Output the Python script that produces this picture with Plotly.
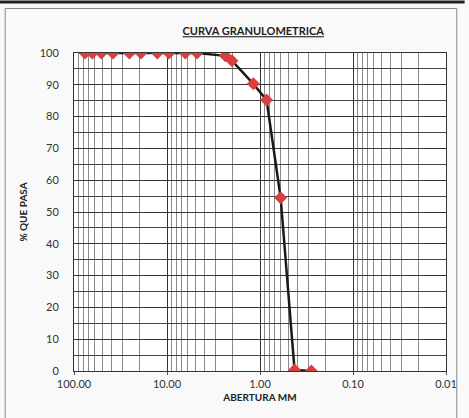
import plotly.graph_objects as go

# Sieve openings (mm) and percent passing
abertura_mm = [76.2, 63.5, 50.8, 38.1, 25.4, 19.05, 12.7, 9.525, 6.35, 4.76,
               2.36, 2.00, 1.18, 0.85, 0.60, 0.425, 0.28]
pct_pasa = [100, 100, 100, 100, 100, 100, 100, 100, 100, 100,
            99.1, 97.6, 90.3, 85.2, 54.5, 0.3, 0.0]

x_tickvals = [100, 10, 1, 0.1, 0.01]
x_ticktext = ["100.00", "10.00", "1.00", "0.10", "0.01"]
y_tickvals = [0, 10, 20, 30, 40, 50, 60, 70, 80, 90, 100]

minor_x = [m * 10 ** e for e in (-2, -1, 0, 1) for m in range(2, 10)]

font_family = "Lato, Open Sans, sans-serif"

fig = go.Figure()
fig.add_trace(go.Scatter(
    x=abertura_mm, y=pct_pasa, mode="lines+markers",
    line=dict(color="#1a1a1a", width=2.5),
    marker=dict(symbol="diamond", size=10, color="#d84040",
                line=dict(width=0)),
    showlegend=False,
))

fig.update_layout(
    width=469, height=418,
    margin=dict(l=74, r=14, t=53, b=47),
    paper_bgcolor="#f9f9f9",
    plot_bgcolor="#ffffff",
    title=dict(text="<b><u>CURVA GRANULOMETRICA</u></b>", x=0.54, xanchor="center",
               y=0.925, yanchor="middle",
               font=dict(family=font_family, size=11, color="#222222")),
    font=dict(family=font_family, size=11, color="#333333"),
    xaxis=dict(
        type="log", range=[2, -2],
        tickvals=x_tickvals, ticktext=x_ticktext,
        showgrid=True, gridcolor="#333333", gridwidth=1,
        minor=dict(tickvals=minor_x, showgrid=True, gridcolor="#8a8a8a", gridwidth=1),
        showline=True, linecolor="#333333", linewidth=1, mirror=True,
        ticks="outside", ticklen=3, tickcolor="#555555",
        title=dict(text="<b>ABERTURA MM</b>", font=dict(size=10, color="#222222"), standoff=4),
        zeroline=False,
    ),
    yaxis=dict(
        range=[0, 100], tickvals=y_tickvals,
        showgrid=True, gridcolor="#333333", gridwidth=1,
        minor=dict(dtick=5, showgrid=True, gridcolor="#444444", gridwidth=1),
        showline=True, linecolor="#333333", linewidth=1, mirror=True,
        ticks="", ticklabelstandoff=12,
        title=dict(text="<b>% QUE PASA</b>", font=dict(size=10, color="#222222"), standoff=10),
        zeroline=False,
    ),
    shapes=[
        dict(type="rect", xref="paper", yref="paper", x0=-0.185, x1=1.029, y0=-0.2, y1=1.14,
             line=dict(color="#888888", width=1), fillcolor="rgba(0,0,0,0)", layer="below"),
        dict(type="line", xref="paper", yref="paper", x0=-0.2, x1=1.05, y0=1.16, y1=1.16,
             line=dict(color="#222222", width=3)),
    ],
)

fig.write_html("out.html", config={"displayModeBar": False},
               post_script="document.body.style.margin='0';document.body.style.overflow='hidden';")
